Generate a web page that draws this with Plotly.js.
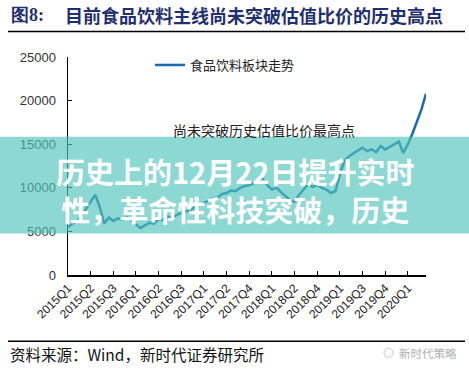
<!DOCTYPE html>
<html>
<head>
<meta charset="utf-8">
<script src="https://cdn.plot.ly/plotly-3.0.1.min.js"></script>
<style>html,body{margin:0;padding:0;background:#fff;}#chart{width:469px;height:372px;}</style>
</head>
<body>
<div id="chart"></div>
<script>
// ---- data (values in index points) ----
const seriesName = "食品饮料板块走势";
const values = [
  5500, 5900, 6100, 6800, 7600, 8400, 9200, 7800, 5900, 6600,
  6200, 6500, 6300, 6600, 6300, 5800, 5400, 5700, 6000, 5900,
  6400, 6300, 6700, 6600, 6900, 7100, 7300, 7400, 7800, 8000,
  8300, 8500, 8800, 8900, 9300, 9400, 9700, 9600, 10000, 10200,
  10300, 10500, 10800, 11000, 10300, 9800, 10000, 9500, 9100, 8600,
  8400, 9200, 9800, 10400, 10100, 10300, 10000, 9800, 9400, 9600,
  11500, 13100, 13600, 14000, 14300, 14600, 14200, 14400, 14100, 14800,
  14400, 14700, 15000, 15300, 14000, 15000, 16200, 17500, 19000, 20800
];
const tickLabels = ["2015Q1","2015Q2","2015Q3","2016Q1","2016Q2","2016Q3","2017Q1","2017Q2",
  "2017Q4","2018Q1","2018Q2","2018Q4","2019Q1","2019Q3","2019Q4","2020Q1"];
const pointsPerTick = 5;
const yTicks = [0, 5000, 10000, 15000, 20000, 25000];
const yTickText = ["0", "5000", "10000", "15000", "20000", "25000"];

const titleLabel = "图8:";
const titleText = "目前食品饮料主线尚未突破估值比价的历史高点";
const noteText = "尚未突破历史估值比价最高点";
const sourceText = "资料来源：Wind，新时代证券研究所";
const watermark = "新时代策略";
const overlayLines = ["历史上的12月22日提升实时", "性，革命性科技突破，历史"];

// ---- layout helpers (pixel -> paper) ----
const L = 68, R = 426, T = 57, B = 275.5;
const W = R - L, H = B - T;
const px = x => (x - L) / W;
const py = y => (B - y) / H;

const xs = values.map((_, i) => i);
const tickvals = tickLabels.map((_, k) => k * pointsPerTick);

const cjk = '"Noto Sans CJK SC", "Noto Sans", sans-serif';

const trace = {
  x: xs, y: values, type: 'scatter', mode: 'lines', name: seriesName,
  line: {color: '#1b69b0', width: 2.5}
};

const layout = {
  width: 469, height: 372,
  margin: {l: L, r: 469 - R, t: T, b: 372 - B},
  paper_bgcolor: '#fff', plot_bgcolor: '#fff',
  showlegend: true,
  legend: {x: px(150), y: py(50), xanchor: 'left', yanchor: 'top', bgcolor: 'rgba(0,0,0,0)',
           font: {family: cjk, size: 13, color: '#222'}},
  xaxis: {range: [0, values.length - 1], tickvals: tickvals, ticktext: tickLabels,
          tickangle: -45, showline: true, linecolor: '#000', linewidth: 1.5,
          ticks: 'inside', ticklen: 4, tickcolor: '#000', showgrid: false, zeroline: false,
          tickfont: {family: 'Liberation Sans, Arial, sans-serif', size: 12, color: '#222'}},
  yaxis: {range: [0, 25000], tickvals: yTicks, ticktext: yTickText, showline: true, linecolor: '#000', linewidth: 1.5,
          ticks: 'inside', ticklen: 4, tickcolor: '#000', showgrid: false, zeroline: false,
          ticklabelstandoff: 8,
          tickfont: {family: 'Liberation Sans, Arial, sans-serif', size: 13, color: '#333'}},
  shapes: [
    {type: 'line', xref: 'paper', yref: 'paper', x0: px(8), x1: px(465), y0: py(31.5), y1: py(31.5),
     line: {color: '#000', width: 1.5}},
    {type: 'line', xref: 'paper', yref: 'paper', x0: px(8), x1: px(465), y0: py(342), y1: py(342),
     line: {color: '#000', width: 1.5}},
    {type: 'rect', xref: 'paper', yref: 'paper', x0: px(0), x1: px(469), y0: py(234), y1: py(137),
     fillcolor: 'rgba(80,196,186,0.66)', line: {width: 0}, layer: 'above'},
    {type: 'circle', xref: 'paper', yref: 'paper', x0: px(384), x1: px(393), y0: py(358), y1: py(349),
     line: {color: '#c8c8c8', width: 1}}
  ],
  annotations: [
    {text: '<b>' + titleLabel + '</b>', xref: 'paper', yref: 'paper', x: px(9), y: py(15),
     xanchor: 'left', yanchor: 'middle', showarrow: false,
     font: {family: 'Liberation Serif, serif', size: 18, color: '#1f2f6f'}},
    {text: '<b>' + titleText + '</b>', xref: 'paper', yref: 'paper', x: px(63), y: py(15),
     xanchor: 'left', yanchor: 'middle', showarrow: false,
     font: {family: cjk, size: 18, color: '#1f2f6f'}},
    {text: noteText, xref: 'paper', yref: 'paper', x: px(171), y: py(130),
     xanchor: 'left', yanchor: 'middle', showarrow: false,
     font: {family: cjk, size: 14, color: '#222'}},
    {text: '<b>' + overlayLines.join('<br>') + '</b>', xref: 'paper', yref: 'paper', x: px(234.5), y: py(190),
     xanchor: 'center', yanchor: 'middle', align: 'center', showarrow: false,
     font: {family: cjk, size: 29, color: '#fff'}},
    {text: sourceText, xref: 'paper', yref: 'paper', x: px(8), y: py(355),
     xanchor: 'left', yanchor: 'middle', showarrow: false,
     font: {family: cjk, size: 15.5, color: '#111'}},
    {text: watermark, xref: 'paper', yref: 'paper', x: px(397), y: py(354),
     xanchor: 'left', yanchor: 'middle', showarrow: false,
     font: {family: cjk, size: 11.5, color: '#b0b0b0'}}
  ]
};

Plotly.newPlot('chart', [trace], layout, {staticPlot: true, displayModeBar: false});
</script>
</body>
</html>
